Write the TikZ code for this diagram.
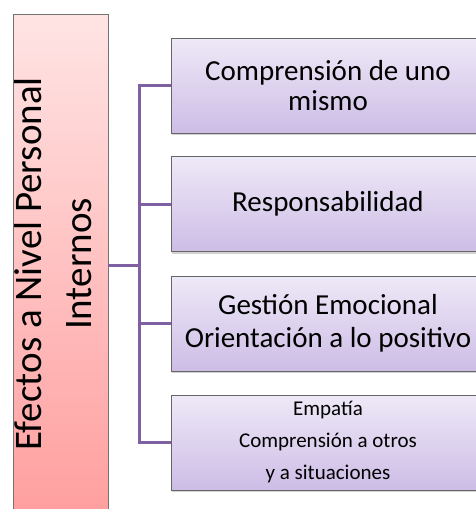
\documentclass[tikz,border=0pt]{standalone}
\usepackage{fontspec}
\setmainfont{Carlito}
\usetikzlibrary{positioning,shadows}

\definecolor{lila}{HTML}{7E60A3}
\definecolor{lilatop}{HTML}{EEE9F7}
\definecolor{lilabot}{HTML}{CDBDE6}
\definecolor{rosatop}{HTML}{FFE4E4}
\definecolor{rosabot}{HTML}{FF9F9F}

\tikzset{
  efecto/.style={draw=black!60,line width=0.8pt,top color=lilatop,bottom color=lilabot,
    minimum width=314pt,minimum height=95pt,align=center,inner sep=0pt,
    font=\fontsize{29}{30}\selectfont,
    drop shadow={shadow xshift=1pt,shadow yshift=-2pt,opacity=0.35}},
  conn/.style={draw=lila,line width=3pt}
}

\begin{document}
\begin{tikzpicture}[x=1pt,y=-1pt]
\useasboundingbox[fill=white] (0,0) rectangle (476,509);

\node[draw=black!55,line width=0.8pt,top color=rosatop,bottom color=rosabot,
  minimum width=95pt,minimum height=500pt,inner sep=0pt] (main) at (60.5,264)
  {\makebox[0pt]{\hspace*{-8pt}\rotatebox{90}{\fontsize{39}{50}\selectfont\begin{tabular}{@{}c@{}}Efectos a Nivel Personal\\Internos\end{tabular}}}};

\node[efecto] (c1) at (328,85.5) {Comprensión de uno\\ mismo};
\node[efecto] (c2) at (328,204) {Responsabilidad};
\node[efecto,font=\fontsize{29}{33}\selectfont] (c3) at (328,323.5) {Gestión Emocional\\ Orientación a lo positivo};
\node[efecto,font=\fontsize{21}{32}\selectfont] (c4) at (328,442.5) {Empatía\\ Comprensión a otros\\ y a situaciones};

\coordinate (hub) at (139,265);
\foreach \c in {c1,c2,c3,c4}
  \draw[conn] (main.east |- hub) -- (hub) |- (\c.west);
\end{tikzpicture}
\end{document}
